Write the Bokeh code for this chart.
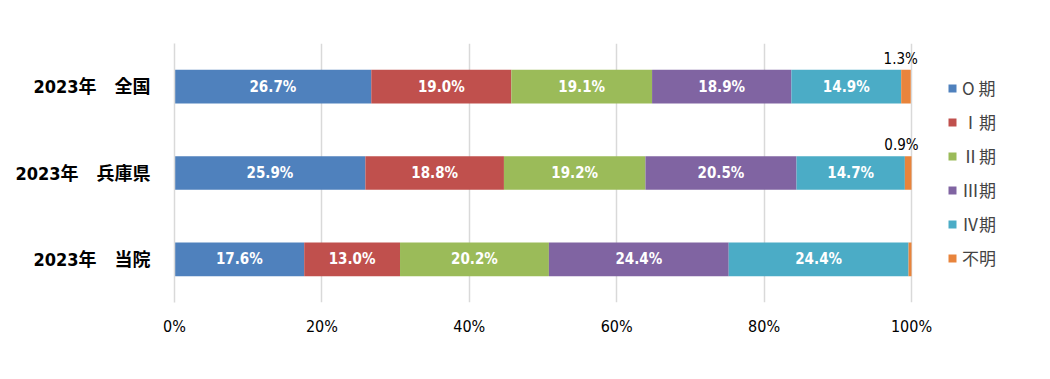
from bokeh.plotting import figure
from bokeh.models import Legend, LegendItem, ColumnDataSource, FixedTicker, CustomJSTickFormatter
from bokeh.core.properties import value
from bokeh.embed import file_html
from bokeh.resources import INLINE

categories = ["2023年　全国", "2023年　兵庫県", "2023年　当院"]
stages = ["O 期", "Ⅰ期", "Ⅱ期", "Ⅲ期", "Ⅳ期", "不明"]
stage_keys = ["s0", "s1", "s2", "s3", "s4", "s5"]
s0 = [26.7, 25.9, 17.6]
s1 = [19.0, 18.8, 13.0]
s2 = [19.1, 19.2, 20.2]
s3 = [18.9, 20.5, 24.4]
s4 = [14.9, 14.7, 24.4]
s5 = [1.3, 0.9, 0.4]
colors = ["#4F81BD", "#C0504D", "#9BBB59", "#8064A2", "#4BACC6", "#E8843C"]
x_ticks = [0, 20, 40, 60, 80, 100]

FONT = "'DejaVu Sans Condensed', 'Noto Sans CJK JP', sans-serif"
CJK = "'Noto Sans CJK JP', sans-serif"

series = [s0, s1, s2, s3, s4, s5]
data = dict(cat=categories)
for k, s in zip(stage_keys, series):
    data[k] = s
src = ColumnDataSource(data)

W, H = 1034, 363
LEFT, RIGHT, TOP, BOTTOM = 174, 0, 43, 61
px_per_unit = 7.37
x_end = (W - LEFT - RIGHT) / px_per_unit

p = figure(width=W, height=H, y_range=list(reversed(categories)), x_range=(0, x_end),
           output_backend="svg", toolbar_location=None,
           min_border_left=LEFT, min_border_right=RIGHT, min_border_top=TOP, min_border_bottom=BOTTOM)
p.outline_line_color = None

rs = p.hbar_stack(stage_keys, y="cat", height=0.39, color=colors, source=src, line_color=None)

lefts = [0.0] * len(categories)
for i, s in enumerate(series):
    mids, labs, cats = [], [], []
    for j, v in enumerate(s):
        if i < 5:
            mids.append(lefts[j] + v / 2)
            labs.append(f"{v:.1f}%")
            cats.append(categories[j])
        lefts[j] += v
    if i < 5:
        p.text(x=mids, y=cats, text=labs, text_color="white", text_font=value(FONT),
               text_font_style="bold", text_font_size="15px", text_align="center",
               text_baseline="middle")

small_x = [lefts[0], lefts[1]]
small_y = [categories[0], categories[1]]
small_t = [f"{s5[0]:.1f}%", f"{s5[1]:.1f}%"]
p.text(x=small_x, y=small_y, text=small_t, text_color="black", text_font=value(FONT),
       text_font_size="15px", text_align="center", text_baseline="bottom",
       x_offset=-10, y_offset=-19)

p.xgrid.ticker = FixedTicker(ticks=x_ticks)
p.xgrid.grid_line_color = "#d9d9d9"
p.xgrid.grid_line_width = 1.5
p.ygrid.grid_line_color = None

p.xaxis.ticker = FixedTicker(ticks=x_ticks)
p.xaxis.formatter = CustomJSTickFormatter(code="return tick + '%';")
p.xaxis.axis_line_color = None
p.xaxis.major_tick_line_color = None
p.xaxis.minor_tick_line_color = None
p.xaxis.major_label_text_font = FONT
p.xaxis.major_label_text_font_size = "16px"
p.xaxis.major_label_text_color = "black"
p.xaxis.major_label_standoff = 8

p.yaxis.axis_line_color = "#d9d9d9"
p.yaxis.axis_line_width = 1.5
p.yaxis.major_tick_line_color = None
p.yaxis.minor_tick_line_color = None
p.yaxis.major_label_text_font = FONT
p.yaxis.major_label_text_font_style = "bold"
p.yaxis.major_label_text_font_size = "18px"
p.yaxis.major_label_text_color = "black"
p.yaxis.major_label_standoff = 18

items = [LegendItem(label=stages[i], renderers=[rs[i]]) for i in range(6)]
legend = Legend(items=items, location=(773, 32), label_text_font=CJK,
                label_text_font_size="17px", glyph_width=10, glyph_height=10,
                label_height=20, spacing=9, label_standoff=5, padding=0,
                margin=0, border_line_color=None, background_fill_alpha=0)
p.add_layout(legend, "center")

open("out.html", "w").write(file_html(p, INLINE))
